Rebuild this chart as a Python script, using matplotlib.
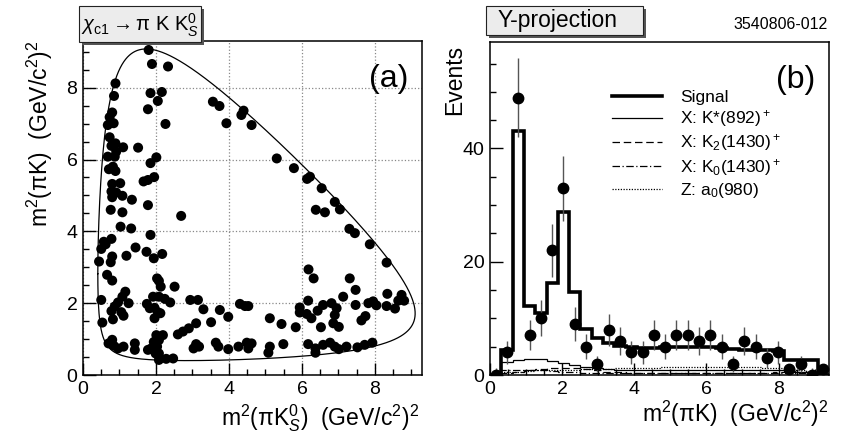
import numpy as np
import matplotlib
matplotlib.use('Agg')
import matplotlib.pyplot as plt
from matplotlib.lines import Line2D
from matplotlib.patches import Rectangle
from matplotlib.ticker import MultipleLocator

plt.rcParams['font.family'] = ['Liberation Sans', 'DejaVu Sans']
plt.rcParams['mathtext.fontset'] = 'custom'
plt.rcParams['mathtext.rm'] = 'Liberation Sans'
plt.rcParams['mathtext.it'] = 'Liberation Sans:italic'
plt.rcParams['mathtext.bf'] = 'Liberation Sans:bold'

# ---------------- particle masses (GeV) for the Dalitz boundary ----------------
M_CHIC1 = 3.51067
M_PI = 0.13957
M_K = 0.49368
M_KS = 0.49761

# ---------------- panel (a): Dalitz plot events ----------------
dalitz_x = [1.80, 1.89, 2.33, 0.89, 0.85, 1.85, 2.16, 2.05, 1.78, 0.80, 0.73, 0.84, 0.68, 2.26,
            0.73, 0.89, 0.78, 1.10, 1.51, 0.68, 0.87, 0.91, 2.01, 1.85, 0.71, 0.89, 0.82, 1.95,
            1.78, 1.66, 0.80, 1.02, 0.78, 0.91, 0.80, 1.08, 1.34, 1.78, 0.76, 1.08, 2.69, 1.03,
            1.32,
            1.85, 0.57, 0.78, 0.50, 0.62, 1.44, 1.19, 0.80, 0.76, 1.74, 1.94, 2.17, 0.44, 0.66,
            0.80, 2.08, 2.13, 2.51, 2.03, 0.50, 1.16, 1.08, 0.96, 0.87, 0.78, 1.25, 1.05, 1.11,
            0.82, 0.53, 1.75, 1.92, 2.08, 2.24, 2.39, 2.94, 3.15, 1.96, 1.83, 2.05, 1.96, 2.12,
            3.10, 2.90, 2.74, 2.60, 0.80, 0.84, 0.96, 1.11, 1.42, 1.42, 1.78, 2.01, 2.19, 1.94,
            2.08, 1.87, 2.03, 2.08, 2.08, 2.28, 2.47, 3.03, 3.10, 0.70, 1.99,
            3.30, 3.75, 3.98, 3.51, 4.30, 4.44, 4.53, 5.12, 5.44, 5.83, 5.94, 5.94, 6.17, 6.13,
            6.26, 6.43, 6.58, 6.81, 6.95, 6.90, 6.86, 7.01, 6.52, 7.13, 7.47, 7.47, 7.63, 7.74,
            7.82, 7.95, 8.04, 8.34, 8.32, 8.55, 8.73, 8.80, 8.64,
            3.18, 3.64, 3.71, 3.98, 4.26, 4.49, 4.62, 4.53, 5.12, 5.08, 5.49, 6.17, 6.37, 6.37,
            6.58, 6.77, 6.90, 7.01, 7.22, 7.52, 7.72, 7.93,
            4.40, 4.62, 5.31, 5.78, 6.14, 6.22, 6.54, 6.90, 7.04, 6.38, 6.63, 7.30, 7.45, 7.86,
            8.32, 6.18, 6.32, 7.31, 3.56, 3.74, 3.93, 4.34]
dalitz_y = [9.05, 8.66, 8.59, 8.12, 7.77, 7.85, 7.88, 7.63, 7.40, 7.31, 7.18, 7.01, 6.96, 6.99,
            6.62, 6.45, 6.38, 6.34, 6.33, 6.08, 6.08, 6.22, 6.06, 5.90, 5.73, 5.68, 5.80, 5.51,
            5.43, 5.39, 5.32, 5.34, 5.11, 5.08, 4.95, 4.99, 4.88, 4.73, 4.60, 4.53, 4.43, 4.13,
            4.08,
            3.90, 3.71, 3.79, 3.51, 3.64, 3.55, 3.32, 3.30, 3.14, 3.43, 3.25, 3.37, 3.16, 2.79,
            2.63, 2.62, 2.46, 2.46, 2.69, 2.09, 2.32, 2.18, 2.02, 1.91, 1.78, 2.00, 1.75, 1.65,
            1.55, 1.46, 1.98, 2.18, 2.18, 2.12, 2.02, 2.09, 2.09, 1.87, 1.86, 1.75, 1.58, 1.72,
            1.44, 1.30, 1.21, 1.13, 0.98, 0.82, 0.74, 0.79, 0.88, 0.70, 0.70, 1.11, 1.11, 0.92,
            0.97, 0.74, 0.79, 0.60, 0.42, 0.45, 0.46, 0.74, 0.86, 0.88, 0.60,
            1.83, 1.81, 1.62, 1.47, 1.98, 1.92, 1.92, 1.58, 1.42, 1.33, 1.88, 1.74, 2.07, 1.70,
            1.58, 1.79, 1.95, 2.00, 1.86, 1.67, 1.44, 1.34, 1.33, 2.18, 2.37, 1.95, 1.52, 1.64,
            2.00, 2.05, 1.94, 2.26, 1.92, 1.85, 2.23, 2.07, 2.07,
            0.79, 0.90, 0.79, 0.72, 0.79, 0.90, 0.88, 0.74, 0.79, 0.62, 0.86, 0.86, 0.74, 0.62,
            0.84, 0.90, 0.79, 0.72, 0.79, 0.77, 0.84, 0.90,
            7.36, 6.96, 6.03, 5.76, 5.46, 5.52, 5.20, 4.82, 4.61, 4.60, 4.53, 4.07, 3.95, 3.64,
            3.13, 2.94, 2.69, 2.69, 7.61, 7.49, 7.01, 7.24]

# ---------------- panel (b): Y projection ----------------
hist_lo, hist_hi, n_bins = 0.0, 9.4, 30
data_counts = [0, 4, 49, 7, 10, 22, 33, 9, 5, 2, 8, 6, 4, 4, 7, 5, 7, 7, 6, 7,
               5, 2, 6, 5, 3, 4, 1, 2, 0, 1]
signal = [0, 4.5, 43.0, 12.2, 10.9, 16.3, 28.7, 14.7, 8.2, 6.5, 5.6, 5.2, 4.9, 4.8, 4.8,
          4.9, 4.9, 5.0, 5.0, 4.9, 4.8, 4.6, 4.5, 4.4, 4.4, 4.3, 2.6, 2.6, 2.6, 0]
kstar = [0, 2.3, 2.6, 2.9, 2.8, 2.5, 2.1, 1.7, 1.4, 1.2, 1.0, 0.9, 0.9, 0.8, 0.8, 0.8, 0.8,
         0.8, 0.8, 0.8, 0.8, 0.8, 0.8, 0.8, 0.8, 0.8, 0.7, 0.6, 0.6, 0]
k2 = [0, 0.3, 0.5, 0.8, 1.0, 1.2, 1.3, 1.2, 1.0, 0.8, 0.6, 0.5, 0.4, 0.4, 0.3, 0.3, 0.3, 0.3,
      0.3, 0.3, 0.3, 0.3, 0.4, 0.4, 0.4, 0.5, 0.6, 0.6, 0.6, 0]
k0 = [0, 0.8, 0.9, 0.9, 0.8, 0.7, 0.6, 0.5, 0.4, 0.4, 0.4, 0.3, 0.3, 0.3, 0.3, 0.3, 0.3, 0.3,
      0.3, 0.3, 0.3, 0.3, 0.3, 0.3, 0.3, 0.3, 0.3, 0.3, 0.3, 0]
a0 = [0, 0.5, 0.6, 0.7, 0.8, 0.8, 0.9, 0.9, 1.0, 1.0, 1.1, 1.2, 1.2, 1.3, 1.3, 1.4, 1.4, 1.5,
      1.5, 1.5, 1.5, 1.5, 1.5, 1.4, 1.3, 1.2, 1.0, 0.8, 0.6, 0]
legend_labels = ['Signal', r'X: K*(892)$^+$', r'X: K$_2$(1430)$^+$',
                 r'X: K$_0$(1430)$^+$', r'Z: a$_0$(980)']

W, H = 842, 437
fig = plt.figure(figsize=(W / 100, H / 100), dpi=100)


def fx(px):
    return px / W


def fy(py):
    return 1 - py / H


axL = fig.add_axes([fx(83), fy(375), (422 - 83) / W, (375 - 41) / H])
axR = fig.add_axes([fx(490), fy(375), (829 - 490) / W, (375 - 42) / H])

TICK_FS = 14

for ax in (axL, axR):
    ax.tick_params(which='both', direction='in', top=False, right=False,
                   labelsize=TICK_FS, width=1.0)
    ax.tick_params(which='major', length=9, pad=4)
    ax.tick_params(which='minor', length=4.5)
    for s in ax.spines.values():
        s.set_linewidth(1.1)

# ---- panel (a) ----
t = (1 - np.cos(np.linspace(0, np.pi, 3000))) / 2
m12 = (M_PI + M_KS) + t * ((M_CHIC1 - M_K) - (M_PI + M_KS))
E1 = (m12 ** 2 - M_KS ** 2 + M_PI ** 2) / (2 * m12)
E3 = (M_CHIC1 ** 2 - m12 ** 2 - M_K ** 2) / (2 * m12)
p1 = np.sqrt(np.clip(E1 ** 2 - M_PI ** 2, 0, None))
p3 = np.sqrt(np.clip(E3 ** 2 - M_K ** 2, 0, None))
hi = (E1 + E3) ** 2 - (p1 - p3) ** 2
lo = (E1 + E3) ** 2 - (p1 + p3) ** 2
bx = np.concatenate([m12 ** 2, (m12 ** 2)[::-1]])
by = np.concatenate([hi, lo[::-1]])
axL.plot(bx, by, color='black', lw=0.9, zorder=3)
axL.scatter(dalitz_x, dalitz_y, s=52, color='black', edgecolors='none', zorder=4)
axL.set_xlim(0, 9.29)
axL.set_ylim(0, 9.3)
axL.xaxis.set_major_locator(MultipleLocator(2))
axL.xaxis.set_minor_locator(MultipleLocator(0.5))
axL.yaxis.set_major_locator(MultipleLocator(2))
axL.yaxis.set_minor_locator(MultipleLocator(0.5))
axL.grid(True, which='major', linestyle=':', color='#888888', lw=0.9)
axL.set_axisbelow(True)
axL.text(0.96, 0.93, '(a)', transform=axL.transAxes, ha='right', va='top', fontsize=23)

# ---- panel (b) ----
edges = np.linspace(hist_lo, hist_hi, n_bins + 1)
centers = 0.5 * (edges[:-1] + edges[1:])
counts = np.array(data_counts, dtype=float)
err_lo = np.sqrt(counts)
err_hi = np.where(counts > 0, np.sqrt(counts), 1.15)

axR.stairs(a0, edges, color='black', lw=0.9, linestyle=(0, (1, 1.2)))
axR.stairs(k0, edges, color='black', lw=0.9, linestyle=(0, (6, 2, 1, 2)))
axR.stairs(k2, edges, color='black', lw=0.9, linestyle=(0, (6, 3)))
axR.stairs(kstar, edges, color='black', lw=0.9)
axR.stairs(signal, edges, color='black', lw=2.6)
axR.errorbar(centers, counts, yerr=[err_lo, err_hi], fmt='o', color='black',
             ecolor='#555555', elinewidth=1.0, ms=7.5, capsize=0, zorder=5)
axR.set_xlim(hist_lo, hist_hi)
axR.set_ylim(0, 58.8)
axR.xaxis.set_major_locator(MultipleLocator(2))
axR.xaxis.set_minor_locator(MultipleLocator(0.5))
axR.yaxis.set_major_locator(MultipleLocator(20))
axR.yaxis.set_minor_locator(MultipleLocator(5))
axR.text(0.96, 0.93, '(b)', transform=axR.transAxes, ha='right', va='top', fontsize=23)

handles = [Line2D([], [], color='black', lw=2.6),
           Line2D([], [], color='black', lw=0.9),
           Line2D([], [], color='black', lw=0.9, linestyle=(0, (6, 3))),
           Line2D([], [], color='black', lw=0.9, linestyle=(0, (6, 2, 1, 2))),
           Line2D([], [], color='black', lw=0.9, linestyle=(0, (1, 1.2)))]
axR.legend(handles, legend_labels, loc='upper left', bbox_to_anchor=(fx(612), fy(90)),
           bbox_transform=fig.transFigure, frameon=False, fontsize=12.5, borderpad=0,
           borderaxespad=0, handlelength=2.9, handletextpad=1.0, labelspacing=0.18)

# ---- axis titles ----
LAB_FS = 16.5
fig.text(fx(40), fy(40), r'm$^2$(πK)  (GeV/c$^2$)$^2$', rotation=90,
         ha='center', va='top', fontsize=LAB_FS)
fig.text(fx(419), fy(434), r'm$^2$(πK$_S^0$)  (GeV/c$^2$)$^2$',
         ha='right', va='bottom', fontsize=LAB_FS)
fig.text(fx(455), fy(45), 'Events', rotation=90, ha='center', va='top', fontsize=LAB_FS)
fig.text(fx(829), fy(429), r'm$^2$(πK)  (GeV/c$^2$)$^2$',
         ha='right', va='bottom', fontsize=LAB_FS)

# ---- title boxes ----
def title_box(x0, y0, x1, y1):
    fig.add_artist(Rectangle((fx(x0 + 3), fy(y1 + 3)), (x1 - x0) / W, (y1 - y0) / H,
                             transform=fig.transFigure, facecolor='#555555',
                             edgecolor='none', zorder=5))
    fig.add_artist(Rectangle((fx(x0), fy(y1)), (x1 - x0) / W, (y1 - y0) / H,
                             transform=fig.transFigure, facecolor='#ececec',
                             edgecolor='#222222', lw=0.8, zorder=6))


title_box(79, 6, 201, 42)
fig.text(fx(140), fy(25), r'$\chi_{\mathrm{c1}}$$\rightarrow$π K K$_S^0$', ha='center',
         va='center', fontsize=14.5, zorder=7)
title_box(486, 6, 643, 35)
fig.text(fx(498), fy(21), 'Y-projection', ha='left', va='center', fontsize=16.5, zorder=7)
fig.text(fx(828), fy(29), '3540806-012', ha='right', va='baseline', fontsize=11.5)

fig.savefig('out.png', dpi=100)
